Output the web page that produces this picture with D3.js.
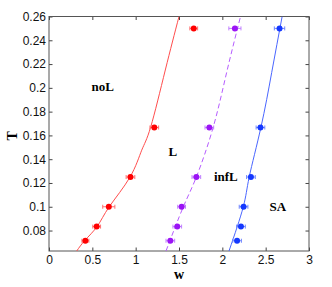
<!DOCTYPE html>
<html>
<head>
<meta charset="utf-8">
<script src="https://cdn.jsdelivr.net/npm/d3@7"></script>
<style>
  body { margin: 0; background: #fff; }
  svg { font-family: "Liberation Serif", "Times New Roman", serif; }
</style>
</head>
<body>
<svg width="332" height="287"></svg>
<script>
// temperatures of the simulations
var temps = [1 / 14, 1 / 12, 0.1, 0.125, 1 / 6, 0.25];

// transition points (w) and horizontal error bars
var noLW = [0.42, 0.55, 0.69, 0.94, 1.215, 1.67];
var noLErr = [0.04, 0.045, 0.07, 0.05, 0.05, 0.045];
var infLW = [1.40, 1.48, 1.53, 1.70, 1.85, 2.145];
var infLErr = [0.05, 0.05, 0.045, 0.05, 0.05, 0.07];
var saW = [2.17, 2.215, 2.245, 2.33, 2.44, 2.66];
var saErr = [0.05, 0.05, 0.05, 0.05, 0.05, 0.06];

// fitted boundaries as [w, T]
var noLFit = [[0.32, 0.0628], [0.415, 0.0718], [0.557, 0.0836], [0.695, 0.100], [0.935, 0.125], [1.07, 0.1476], [1.174, 0.1672], [1.342, 0.215], [1.50, 0.26]];
var infLFit = [[1.35, 0.0628], [1.55, 0.100], [1.70, 0.125], [1.895, 0.167], [2.05, 0.213], [2.21, 0.26]];
var saFit = [[2.077, 0.0628], [2.242, 0.100], [2.31, 0.125], [2.446, 0.167], [2.57, 0.213], [2.69, 0.26]];

var xTicks = [0, 0.5, 1, 1.5, 2, 2.5, 3];
var yTicks = [0.08, 0.1, 0.12, 0.14, 0.16, 0.18, 0.2, 0.22, 0.24, 0.26];

var svg = d3.select('svg');
var margin = { top: 16.5, right: 23, bottom: 36, left: 49 };
var width = svg.attr('width') - margin.left - margin.right;
var height = svg.attr('height') - margin.top - margin.bottom;

var g = svg.append('g')
    .attr('transform', 'translate(' + margin.left + ',' + margin.top + ')');

var xScale = d3.scaleLinear().domain([0, 3]).range([0, width]);
var yScale = d3.scaleLinear().domain([0.0628, 0.26]).range([height, 0]);

// axes with inward ticks, matlab style box
function styleAxis(sel) {
    sel.select('.domain').remove();
    sel.selectAll('.tick line').attr('stroke', '#444');
    sel.selectAll('.tick text').attr('font-size', 12).attr('fill', '#111');
}
g.append('g')
    .attr('transform', 'translate(0,' + height + ')')
    .call(d3.axisBottom(xScale).tickValues(xTicks).tickSize(-3.5).tickPadding(4).tickFormat(d3.format('')))
    .call(styleAxis);
g.append('g')
    .call(d3.axisTop(xScale).tickValues(xTicks).tickSize(-3.5).tickFormat(''))
    .call(styleAxis);
g.append('g')
    .call(d3.axisLeft(yScale).tickValues(yTicks).tickSize(-3.5).tickPadding(3).tickFormat(d3.format('')))
    .call(styleAxis);
g.append('g')
    .attr('transform', 'translate(' + width + ',0)')
    .call(d3.axisRight(yScale).tickValues(yTicks).tickSize(-3.5).tickFormat(''))
    .call(styleAxis);

g.append('rect')
    .attr('width', width)
    .attr('height', height)
    .attr('fill', 'none')
    .attr('stroke', '#555')
    .attr('stroke-width', 1);

var plot = g.append('g');
plot.append('clipPath').attr('id', 'clip')
    .append('rect').attr('width', width).attr('height', height);

var line = d3.line()
    .x(function (d) { return xScale(d[0]); })
    .y(function (d) { return yScale(d[1]); })
    .curve(d3.curveNatural);

var series = [
    { w: noLW, err: noLErr, fit: noLFit, color: '#ff0000', lineColor: '#ff4d4d', barColor: '#ff7070', dash: null },
    { w: infLW, err: infLErr, fit: infLFit, color: '#9b14f5', lineColor: '#b55cff', barColor: '#c080ff', dash: '5,3' },
    { w: saW, err: saErr, fit: saFit, color: '#1438ff', lineColor: '#4a66ff', barColor: '#6f86ff', dash: null }
];

series.forEach(function (s) {
    plot.append('path')
        .datum(s.fit)
        .attr('clip-path', 'url(#clip)')
        .attr('d', line)
        .attr('fill', 'none')
        .attr('stroke', s.lineColor)
        .attr('stroke-width', 1)
        .attr('stroke-dasharray', s.dash);

    var pts = s.w.map(function (w, i) { return { w: w, t: temps[i], e: s.err[i] }; });
    var bars = plot.append('g').attr('stroke', s.barColor).attr('stroke-width', 1);
    pts.forEach(function (p) {
        var y = yScale(p.t);
        var x0 = xScale(p.w - p.e), x1 = xScale(p.w + p.e);
        bars.append('line').attr('x1', x0).attr('x2', x1).attr('y1', y).attr('y2', y);
        bars.append('line').attr('x1', x0).attr('x2', x0).attr('y1', y - 2).attr('y2', y + 2);
        bars.append('line').attr('x1', x1).attr('x2', x1).attr('y1', y - 2).attr('y2', y + 2);
    });
    plot.append('g').selectAll('circle')
        .data(pts)
        .enter().append('circle')
        .attr('cx', function (d) { return xScale(d.w); })
        .attr('cy', function (d) { return yScale(d.t); })
        .attr('r', 3)
        .attr('fill', s.color);
});

// region labels
var regions = [['noL', 0.62, 0.2015], ['L', 1.43, 0.1465], ['infL', 2.04, 0.1251], ['SA', 2.64, 0.0999]];
g.selectAll('.region')
    .data(regions)
    .enter().append('text')
    .attr('x', function (d) { return xScale(d[1]); })
    .attr('y', function (d) { return yScale(d[2]); })
    .attr('dy', '0.35em')
    .attr('text-anchor', 'middle')
    .attr('font-size', 13)
    .attr('font-weight', 'bold')
    .text(function (d) { return d[0]; });

svg.append('text')
    .attr('x', margin.left + width / 2)
    .attr('y', 278.5)
    .attr('text-anchor', 'middle')
    .attr('font-size', 14)
    .attr('font-weight', 'bold')
    .text('w');

svg.append('text')
    .attr('transform', 'translate(12,' + (margin.top + height / 2 + 2) + ') rotate(-90)')
    .attr('text-anchor', 'middle')
    .attr('dy', '0.35em')
    .attr('font-size', 14)
    .attr('font-weight', 'bold')
    .text('T');
</script>
</body>
</html>
